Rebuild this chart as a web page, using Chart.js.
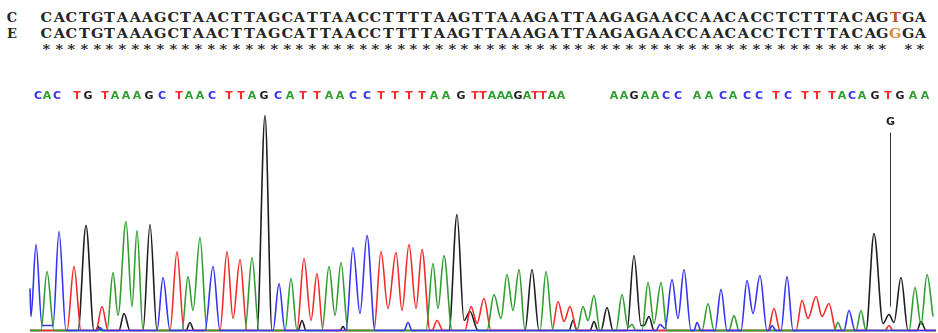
<!DOCTYPE html>
<html>
<head>
<meta charset="utf-8">
<title>Sequencing chromatogram</title>
<script src="https://cdn.jsdelivr.net/npm/chart.js@4.4.1/dist/chart.umd.min.js"></script>
<style>
  html, body { margin: 0; padding: 0; background: #fff; }
  #wrap { position: relative; width: 938px; height: 333px; overflow: hidden; }
  #traceChart { position: absolute; left: 0; top: 0; }
  .row { position: absolute; left: 0; width: 938px; height: 15px; line-height: 15px;
         font: bold 13px 'DejaVu Serif', serif; color: #262626; white-space: nowrap; }
  .row .name { position: absolute; left: 6px; width: 12px; text-align: center; }
  .row .seq { position: absolute; left: 40px; }
  .row .seq span { display: inline-block; width: 12.68px; text-align: center; transform: scaleX(1.12); }
  #row0 { top: 10px; }
  #row1 { top: 26px; }
  #row2 { top: 42px; }
</style>
</head>
<body>
<div id="wrap">
  <div id="alignment"></div>
  <canvas id="traceChart" width="938" height="333"></canvas>
</div>
<script>
// Alignment: reference (C) vs sample (E)
const alignNames = ['C', 'E'];
const alignSeqs = [
    'CACTGTAAAGCTAACTTAGCATTAACCTTTTAAGTTAAAGATTAAGAGAACCAACACCTCTTTACAGTGA',
    'CACTGTAAAGCTAACTTAGCATTAACCTTTTAAGTTAAAGATTAAGAGAACCAACACCTCTTTACAGGGA'
];

// Base calls printed above the trace and the scan where each sits
const baseCalls = 'CACTGTAAAGCTAACTTAGCATTAACCTTTTAAGTTAAAGATTAAAAGAACCAACACCTCTTTACAGTGAA';
const baseCallScans = [
    38, 47, 57, 77, 88, 105, 115, 126, 137, 149, 162, 179, 189, 200, 212, 229, 241, 252, 264, 278,
    290, 303, 317, 329, 340, 353, 367, 381, 395, 409, 422, 434, 446, 461, 475, 483, 492, 501, 509, 518,
    527, 535, 543, 552, 561, 614, 624, 634, 645, 655, 666, 678, 697, 709, 723, 733, 747, 759, 776, 788,
    805, 817, 832, 842, 852, 862, 875, 888, 900, 913, 925
];

// Heterozygous position marker
const variantScan = 890;
const variantCall = 'G';
const variantTop = 198;
const variantBottom = 24;

// Trace signal, [scan, intensity]
const traceC = [
    [30, 42], [31, 14], [36, 86], [42, 5], [53, 5], [59, 99], [66, 0], [98, 0], [100, 3], [103, 0],
    [157, 0], [163, 53], [170, 0], [205, 0], [213, 64], [220, 0], [273, 0], [279, 47], [285, 0],
    [346, 0], [353, 83], [360, 17], [367, 95], [375, 0], [404, 0], [408, 8], [412, 0],
    [656, 0], [660, 6], [665, 2], [672, 51], [678, 12], [684, 61], [691, 0], [694, 0], [697, 8], [701, 0],
    [715, 0], [721, 41], [727, 0], [741, 0], [747, 50], [753, 17], [760, 55], [767, 0], [769, 0], [772, 5],
    [776, 0], [781, 0], [787, 54], [793, 0], [844, 0], [849, 20], [855, 0], [936, 0]
];
const traceA = [
    [30, 0], [41, 0], [47, 59], [54, 0], [107, 0], [113, 58], [118, 15], [126, 109], [132, 24], [137, 100],
    [143, 0], [182, 0], [188, 54], [193, 20], [200, 93], [207, 0], [245, 0], [252, 73], [259, 0],
    [285, 0], [291, 52], [297, 0], [322, 0], [329, 64], [335, 15], [341, 68], [348, 0],
    [426, 0], [433, 67], [438, 22], [444, 75], [452, 0], [487, 0], [494, 36], [501, 12], [507, 56],
    [513, 20], [519, 61], [525, 0], [540, 0], [546, 59], [553, 0], [577, 0], [583, 24], [588, 10],
    [594, 35], [600, 0], [616, 0], [622, 36], [628, 3], [632, 6], [636, 0], [642, 0], [648, 48],
    [654, 7], [661, 48], [667, 0], [702, 0], [708, 27], [714, 0], [729, 0], [734, 15], [739, 0],
    [834, 0], [838, 8], [842, 0], [856, 0], [861, 20], [866, 0], [909, 0], [915, 43], [921, 6],
    [927, 56], [933, 14]
];
const traceT = [
    [30, 0], [67, 0], [74, 64], [81, 0], [96, 0], [102, 24], [108, 0], [170, 0], [177, 79], [184, 0],
    [220, 0], [227, 79], [233, 12], [240, 71], [247, 0], [297, 0], [304, 72], [311, 10], [317, 57],
    [323, 0], [374, 0], [381, 79], [388, 22], [396, 78], [402, 20], [409, 86], [416, 22], [422, 81],
    [430, 0], [432, 0], [437, 10], [443, 0], [465, 0], [471, 24], [477, 7], [484, 32], [491, 0],
    [552, 0], [558, 29], [564, 9], [570, 24], [577, 0], [768, 0], [774, 22], [780, 0], [796, 0],
    [802, 30], [808, 12], [816, 34], [822, 14], [829, 27], [836, 0], [885, 0], [889, 5], [893, 0], [936, 0]
];
const traceG = [
    [30, 0], [78, 0], [86, 105], [94, 0], [96, 0], [98, 4], [101, 0], [119, 0], [124, 17], [130, 0],
    [143, 0], [150, 106], [157, 0], [186, 0], [190, 8], [194, 0], [257, 0], [265, 215], [272, 0],
    [298, 0], [302, 10], [306, 0], [340, 0], [343, 4], [346, 0], [449, 0], [457, 116], [464, 10],
    [470, 19], [478, 0], [525, 0], [532, 61], [539, 0], [569, 0], [573, 10], [577, 0], [590, 0],
    [594, 9], [598, 0], [601, 0], [607, 23], [613, 0], [627, 0], [634, 75], [641, 5], [644, 5],
    [649, 14], [654, 0], [866, 0], [874, 97], [883, 7], [889, 16], [894, 8], [901, 53], [908, 0],
    [917, 0], [921, 9], [926, 0], [936, 0]
];

const baseColors = { A: '#2f9e2f', C: '#3434f2', G: '#1e1e1e', T: '#f42a2a' };
const mismatchColors = ['#c9501e', '#d98a3a'];

// Alignment rows as plain text
function buildAlignment() {
    const box = document.getElementById('alignment');
    const consensus = alignSeqs[0].split('').map((b, i) => b === alignSeqs[1][i] ? '*' : ' ').join('');
    const rows = alignSeqs.map((s, r) => ({ name: alignNames[r], seq: s })).concat([{ name: '', seq: consensus }]);

    rows.forEach((row, r) => {
        const div = document.createElement('div');
        div.className = 'row';
        div.id = 'row' + r;
        const name = document.createElement('span');
        name.className = 'name';
        name.textContent = row.name;
        div.appendChild(name);
        const seq = document.createElement('span');
        seq.className = 'seq';
        row.seq.split('').forEach((ch, i) => {
            const s = document.createElement('span');
            s.textContent = ch === ' ' ? '\u00a0' : ch;
            if (r < 2 && alignSeqs[0][i] !== alignSeqs[1][i]) s.style.color = mismatchColors[r];
            seq.appendChild(s);
        });
        div.appendChild(seq);
        box.appendChild(div);
    });
}

// Base calls + variant marker
const baseCallPlugin = {
    id: 'baseCalls',
    afterDatasetsDraw(chart) {
        const { ctx, scales: { x, y } } = chart;
        ctx.save();
        ctx.font = 'bold 11px "DejaVu Sans", sans-serif';
        ctx.textAlign = 'center';
        ctx.textBaseline = 'alphabetic';
        baseCalls.split('').forEach((b, i) => {
            ctx.fillStyle = baseColors[b];
            ctx.fillText(b, x.getPixelForValue(baseCallScans[i]), 99);
        });

        const mx = Math.round(x.getPixelForValue(variantScan)) + 0.5;
        const top = y.getPixelForValue(variantTop);
        ctx.strokeStyle = '#333';
        ctx.lineWidth = 1;
        ctx.beginPath();
        ctx.moveTo(mx, top);
        ctx.lineTo(mx, y.getPixelForValue(variantBottom));
        ctx.stroke();
        ctx.fillStyle = '#222';
        ctx.fillText(variantCall, mx, top - 8);
        ctx.restore();
    }
};

function traceDataset(trace, base, order) {
    return {
        label: base,
        data: trace.map(([scan, v]) => ({ x: scan, y: v })),
        borderColor: baseColors[base],
        borderWidth: 1.6,
        pointRadius: 0,
        fill: false,
        order: order,
        cubicInterpolationMode: 'monotone'
    };
}

function initChart() {
    const ctx = document.getElementById('traceChart').getContext('2d');
    new Chart(ctx, {
        type: 'line',
        data: {
            datasets: [
                traceDataset(traceG, 'G', 4),
                traceDataset(traceT, 'T', 3),
                traceDataset(traceA, 'A', 2),
                traceDataset(traceC, 'C', 1)
            ]
        },
        options: {
            responsive: false,
            animation: false,
            layout: { padding: 0 },
            plugins: {
                legend: { display: false },
                tooltip: { enabled: false }
            },
            scales: {
                x: { type: 'linear', min: 0, max: 938, display: false },
                y: { min: -2.5, max: 330.5, display: false }
            }
        },
        plugins: [baseCallPlugin]
    });
}

window.addEventListener('DOMContentLoaded', () => {
    buildAlignment();
    initChart();
});
</script>
</body>
</html>
